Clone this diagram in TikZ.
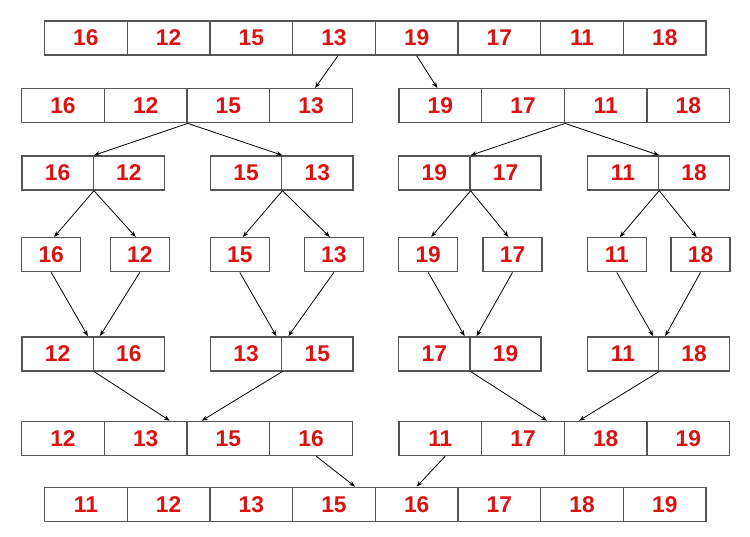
\documentclass[tikz,border=0pt]{standalone}
\usepackage{fontspec}
\setmainfont{Liberation Sans}
\usetikzlibrary{arrows.meta}

\definecolor{boxgray}{RGB}{85,85,85}
\definecolor{numred}{RGB}{218,18,18}

\tikzset{
  cell/.style={draw=boxgray, line width=1.4pt, inner sep=0pt, minimum height=34pt,
    text=numred, font=\bfseries\fontsize{22.8}{26}\selectfont},
  wide/.style={cell, minimum width=82.7pt},
  pair/.style={cell, minimum width=71.2pt},
  single/.style={cell, minimum width=59pt},
  arr/.style={-{Stealth[length=6pt,width=4.5pt]}, line width=0.8pt}
}

\begin{document}
\begin{tikzpicture}[x=1pt,y=-1pt]
      % Fix the page to the size of the reference.
      \useasboundingbox (0,0) rectangle (750,536);

      % Row a: the unsorted array
      \node[wide] (a1) at (85.9, 38) {16};
      \node[wide] (a2) at (168.6, 38) {12};
      \node[wide] (a3) at (251.3, 38) {15};
      \node[wide] (a4) at (334.0, 38) {13};
      \node[wide] (a5) at (416.7, 38) {19};
      \node[wide] (a6) at (499.4, 38) {17};
      \node[wide] (a7) at (582.1, 38) {11};
      \node[wide] (a8) at (664.8, 38) {18};

      % Row b: two halves
      \node[wide] (b1) at (63.0, 105.7) {16};
      \node[wide] (b2) at (145.7, 105.7) {12};
      \node[wide] (b3) at (228.4, 105.7) {15};
      \node[wide] (b4) at (311.1, 105.7) {13};
      \node[wide] (b5) at (440.3, 105.7) {19};
      \node[wide] (b6) at (523.0, 105.7) {17};
      \node[wide] (b7) at (605.7, 105.7) {11};
      \node[wide] (b8) at (688.4, 105.7) {18};

      % Row c: pairs
      \node[pair] (c1) at (57.6, 173) {16};
      \node[pair] (c2) at (128.8, 173) {12};
      \node[pair] (c3) at (246.1, 173) {15};
      \node[pair] (c4) at (317.3, 173) {13};
      \node[pair] (c5) at (434.3, 173) {19};
      \node[pair] (c6) at (505.5, 173) {17};
      \node[pair] (c7) at (622.9, 173) {11};
      \node[pair] (c8) at (694.1, 173) {18};

      % Row d: single elements
      \node[single] (d1) at (51.2, 254.7) {16};
      \node[single] (d2) at (139.8, 254.7) {12};
      \node[single] (d3) at (239.8, 254.7) {15};
      \node[single] (d4) at (333.8, 254.7) {13};
      \node[single] (d5) at (428.2, 254.7) {19};
      \node[single] (d6) at (512.5, 254.7) {17};
      \node[single] (d7) at (616.8, 254.7) {11};
      \node[single] (d8) at (700.5, 254.7) {18};

      % Row e: merged pairs
      \node[pair] (e1) at (57.6, 353.8) {12};
      \node[pair] (e2) at (128.8, 353.8) {16};
      \node[pair] (e3) at (246.1, 353.8) {13};
      \node[pair] (e4) at (317.3, 353.8) {15};
      \node[pair] (e5) at (434.3, 353.8) {17};
      \node[pair] (e6) at (505.5, 353.8) {19};
      \node[pair] (e7) at (622.9, 353.8) {11};
      \node[pair] (e8) at (694.1, 353.8) {18};

      % Row f: merged halves
      \node[wide] (f1) at (63.0, 438.4) {12};
      \node[wide] (f2) at (145.7, 438.4) {13};
      \node[wide] (f3) at (228.4, 438.4) {15};
      \node[wide] (f4) at (311.1, 438.4) {16};
      \node[wide] (f5) at (440.3, 438.4) {11};
      \node[wide] (f6) at (523.0, 438.4) {17};
      \node[wide] (f7) at (605.7, 438.4) {18};
      \node[wide] (f8) at (688.4, 438.4) {19};

      % Row g: the sorted array
      \node[wide] (g1) at (85.9, 504.3) {11};
      \node[wide] (g2) at (168.6, 504.3) {12};
      \node[wide] (g3) at (251.3, 504.3) {13};
      \node[wide] (g4) at (334.0, 504.3) {15};
      \node[wide] (g5) at (416.7, 504.3) {16};
      \node[wide] (g6) at (499.4, 504.3) {17};
      \node[wide] (g7) at (582.1, 504.3) {18};
      \node[wide] (g8) at (664.8, 504.3) {19};

      % Splitting
      \draw[arr] ([xshift=4]a4.south) -- ([xshift=4]b4.north);
      \draw[arr] (a5.south) -- ([xshift=-3]b5.north);

      \draw[arr] (b2.south east) -- (c1.north east);
      \draw[arr] (b2.south east) -- (c3.north east);
      \draw[arr] (b6.south east) -- (c5.north east);
      \draw[arr] (b6.south east) -- (c7.north east);

      \draw[arr] (c1.south east) -- ([xshift=3]d1.north);
      \draw[arr] (c1.south east) -- ([xshift=-4]d2.north);
      \draw[arr] (c3.south east) -- ([xshift=3]d3.north);
      \draw[arr] (c3.south east) -- ([xshift=-4]d4.north);
      \draw[arr] (c5.south east) -- ([xshift=3]d5.north);
      \draw[arr] (c5.south east) -- ([xshift=-4]d6.north);
      \draw[arr] (c7.south east) -- ([xshift=3]d7.north);
      \draw[arr] (c7.south east) -- ([xshift=-4]d8.north);

      % Merging
      \draw[arr] (d1.south) -- ([xshift=-6]e1.north east);
      \draw[arr] (d2.south) -- ([xshift=6]e1.north east);
      \draw[arr] (d3.south) -- ([xshift=-6]e3.north east);
      \draw[arr] (d4.south) -- ([xshift=6]e3.north east);
      \draw[arr] (d5.south) -- ([xshift=-6]e5.north east);
      \draw[arr] (d6.south) -- ([xshift=6]e5.north east);
      \draw[arr] (d7.south) -- ([xshift=-6]e7.north east);
      \draw[arr] (d8.south) -- ([xshift=6]e7.north east);

      \draw[arr] (e1.south east) -- ([xshift=-18]f2.north east);
      \draw[arr] (e3.south east) -- ([xshift=14]f2.north east);
      \draw[arr] (e5.south east) -- ([xshift=-18]f6.north east);
      \draw[arr] (e7.south east) -- ([xshift=14]f6.north east);

      \draw[arr] ([xshift=5]f4.south) -- ([xshift=-21]g4.north east);
      \draw[arr] ([xshift=5]f5.south) -- (g5.north);
    \end{tikzpicture}
\end{document}
